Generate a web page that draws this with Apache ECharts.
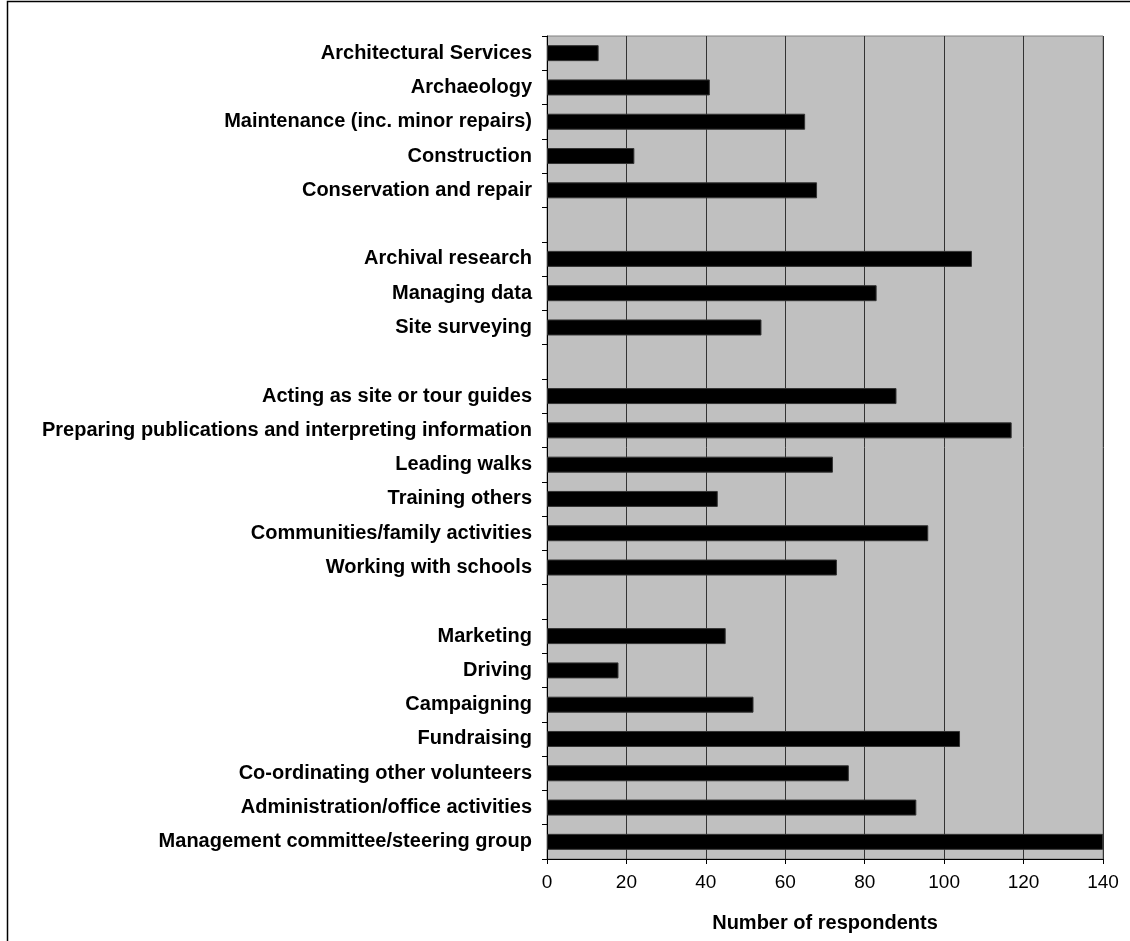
<!DOCTYPE html>
<html>
<head>
<meta charset="utf-8">
<script src="https://cdn.jsdelivr.net/npm/echarts@6/dist/echarts.min.js"></script>
<style>
html,body{margin:0;padding:0;background:#fff;}
#chart{width:1130px;height:941px;}
</style>
</head>
<body>
<div id="chart"></div>
<script>
const categories = [
  'Architectural Services',
  'Archaeology',
  'Maintenance (inc. minor repairs)',
  'Construction',
  'Conservation and repair',
  ' ',
  'Archival research',
  'Managing data',
  'Site surveying',
  '  ',
  'Acting as site or tour guides',
  'Preparing publications and interpreting information',
  'Leading walks',
  'Training others',
  'Communities/family activities',
  'Working with schools',
  '   ',
  'Marketing',
  'Driving',
  'Campaigning',
  'Fundraising',
  'Co-ordinating other volunteers',
  'Administration/office activities',
  'Management committee/steering group'
];
const respondents = [
  13, 41, 65, 22, 68,
  null,
  107, 83, 54,
  null,
  88, 117, 72, 43, 96, 73,
  null,
  45, 18, 52, 104, 76, 93, 140
];
const xTicks = { min: 0, max: 140, interval: 20 };
const xTitle = 'Number of respondents';

const chart = echarts.init(document.getElementById('chart'), null, { renderer: 'canvas' });
const font = "'Liberation Sans', Arial, sans-serif";
chart.setOption({
  animation: false,
  backgroundColor: '#ffffff',
  graphic: [{
    type: 'rect',
    shape: { x: 7.5, y: 1.5, width: 1300, height: 1100 },
    style: { fill: 'none', stroke: '#000', lineWidth: 1.5 },
    silent: true,
    z: 100
  }],
  grid: {
    left: 547, right: 27, top: 36, bottom: 82,
    show: true,
    backgroundColor: '#C0C0C0',
    borderColor: '#808080',
    borderWidth: 1
  },
  xAxis: {
    type: 'value',
    min: xTicks.min, max: xTicks.max, interval: xTicks.interval,
    name: xTitle,
    nameLocation: 'middle',
    nameGap: 54,
    nameTextStyle: { fontFamily: font, fontWeight: 'bold', fontSize: 20, color: '#000' },
    axisLine: { show: true, lineStyle: { color: '#000', width: 1 } },
    axisTick: { show: true, length: 5, lineStyle: { color: '#000' } },
    axisLabel: { fontFamily: font, fontSize: 19, color: '#000', margin: 14 },
    splitLine: { show: true, lineStyle: { color: '#333', width: 1 } }
  },
  yAxis: {
    type: 'category',
    data: categories,
    inverse: true,
    axisLine: { show: true, lineStyle: { color: '#000', width: 1 } },
    axisTick: { show: true, length: 5, lineStyle: { color: '#000' } },
    axisLabel: { fontFamily: font, fontWeight: 'bold', fontSize: 20, color: '#000', margin: 15 },
    splitLine: { show: false }
  },
  series: [{
    type: 'bar',
    data: respondents,
    barWidth: 16,
    itemStyle: { color: '#000', borderColor: '#333', borderWidth: 1 }
  }]
});
</script>
</body>
</html>
